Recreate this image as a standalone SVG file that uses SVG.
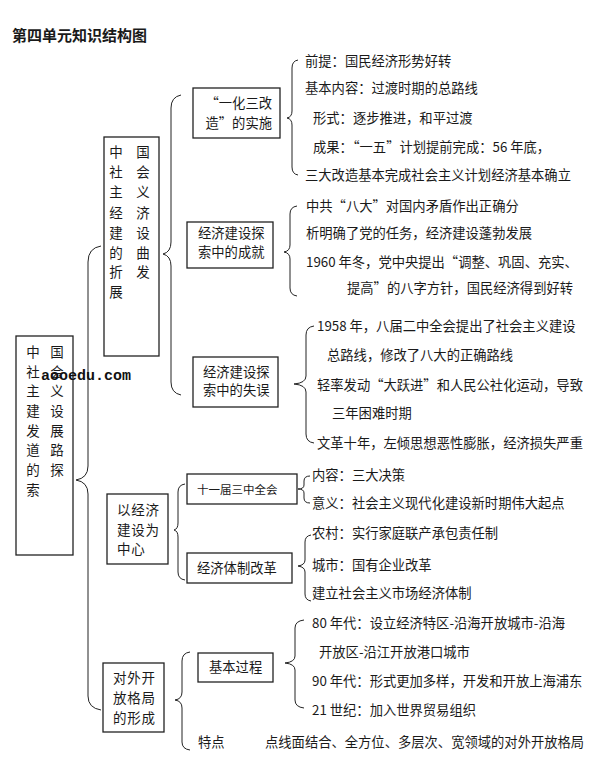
<svg xmlns="http://www.w3.org/2000/svg" width="600" height="762" viewBox="0 0 600 762">
<style>
text{font-family:"Noto Sans CJK SC","Noto Sans",sans-serif;fill:#1a1a1a}
.t{font-size:13.3px}
.b{font-size:13.5px}
.title{font-size:15px;font-weight:bold}
.box{fill:#fff;stroke:#222;stroke-width:1.3}
.br{fill:none;stroke:#222;stroke-width:1}
.wm{font-family:"Liberation Mono","DejaVu Sans Mono",monospace;font-size:15px;font-weight:bold;fill:#111}
</style>
<rect width="600" height="762" fill="#fff"/>
<text class="title" x="12" y="41">第四单元知识结构图</text>

<g id="connectors">
<path class="br" d="M101,246 Q88,248 88,262 L88,466 Q88,478 76,480 Q88,482 88,494 L88,696 Q88,708 101,710"/>
<path class="br" d="M181,95 Q171,97 171,108 L171,242 Q171,252 163,254 Q171,256 171,266 L171,382 Q171,393 181,395"/>
<path class="br" d="M298,60 Q292,61 292,68 L292,111 Q292,117 287,118 Q292,119 292,125 L292,167 Q292,174 298,175"/>
<path class="br" d="M297,206 Q290,207 290,214 L290,245 Q290,251 284,252 Q290,253 290,259 L290,288 Q290,295 297,296"/>
<path class="br" d="M314,326 Q306,327 306,335 L306,376 Q306,383 294,384 Q306,385 306,392 L306,434 Q306,442 314,443"/>
<path class="br" d="M310,476 Q304,476 304,481 L304,485 Q304,489 298,489 Q304,489 304,493 L304,498 Q304,503 310,503"/>
<path class="br" d="M311,535 Q305,536 305,542 L305,560 Q305,565 298,566 Q305,567 305,572 L305,594 Q305,600 311,601"/>
<path class="br" d="M185,484 Q178,485 178,492 L178,523 Q178,529 174,530 Q178,531 178,537 L178,572 Q178,579 185,580"/>
<path class="br" d="M190,652 Q182,653 182,661 L182,692 Q182,699 175,700 Q182,701 182,708 L182,742 Q182,749 190,750"/>
<path class="br" d="M304,620 Q295,621 295,628 L295,656 Q295,662 285,663 Q295,664 295,670 L295,700 Q295,707 304,708"/>
</g>

<g id="root">
<rect class="box" x="16" y="336" width="57" height="219"/>
<g class="b" text-anchor="middle">
<text x="33" y="357">中</text><text x="57" y="357">国</text>
<text x="33" y="377">社</text><text x="57" y="377">会</text>
<text x="33" y="396">主</text><text x="57" y="396">义</text>
<text x="33" y="416">建</text><text x="57" y="416">设</text>
<text x="33" y="436">发</text><text x="57" y="436">展</text>
<text x="33" y="455">道</text><text x="57" y="455">路</text>
<text x="33" y="475">的</text><text x="57" y="475">探</text>
<text x="33" y="495">索</text>
</g>
</g>

<g id="n-quzhe">
<rect class="box" x="104" y="137" width="55" height="219"/>
<g class="b" text-anchor="middle">
<text x="116" y="157">中</text><text x="143" y="157">国</text>
<text x="116" y="177">社</text><text x="143" y="177">会</text>
<text x="116" y="197">主</text><text x="143" y="197">义</text>
<text x="116" y="218">经</text><text x="143" y="218">济</text>
<text x="116" y="238">建</text><text x="143" y="238">设</text>
<text x="116" y="258">的</text><text x="143" y="258">曲</text>
<text x="116" y="277">折</text><text x="143" y="277">发</text>
<text x="116" y="297">展</text>
</g>
</g>

<g id="n-yihua">
<rect class="box" x="193" y="88" width="87" height="50"/>
<text class="t" x="272" y="108" text-anchor="end">“一化三改</text>
<text class="t" x="272" y="128" text-anchor="end">造”的实施</text>
<text class="t" x="305" y="66">前提：国民经济形势好转</text>
<text class="t" x="305" y="93">基本内容：过渡时期的总路线</text>
<text class="t" x="313" y="123">形式：逐步推进，和平过渡</text>
<text class="t" x="313" y="152">成果：“一五”计划提前完成：56 年底，</text>
<text class="t" x="305" y="180">三大改造基本完成社会主义计划经济基本确立</text>
</g>

<g id="n-chengjiu">
<rect class="box" x="187" y="222" width="86" height="46"/>
<text class="t" x="198" y="238">经济建设探</text>
<text class="t" x="198" y="257">索中的成就</text>
<text class="t" x="306" y="211">中共“八大”对国内矛盾作出正确分</text>
<text class="t" x="306" y="238">析明确了党的任务，经济建设蓬勃发展</text>
<text class="t" x="306" y="267">1960 年冬，党中央提出“调整、巩固、充实、</text>
<text class="t" x="347" y="293">提高”的八字方针，国民经济得到好转</text>
</g>

<g id="n-shiwu">
<rect class="box" x="193" y="357" width="85" height="50"/>
<text class="t" x="203" y="377">经济建设探</text>
<text class="t" x="203" y="395">索中的失误</text>
<text class="t" x="317" y="331">1958 年，八届二中全会提出了社会主义建设</text>
<text class="t" x="327" y="360">总路线，修改了八大的正确路线</text>
<text class="t" x="317" y="390">轻率发动“大跃进”和人民公社化运动，导致</text>
<text class="t" x="332" y="418">三年困难时期</text>
<text class="t" x="317" y="448">文革十年，左倾思想恶性膨胀，经济损失严重</text>
</g>

<g id="n-zhongxin">
<rect class="box" x="107" y="494" width="61" height="70"/>
<text class="b" x="117" y="515" letter-spacing="0.8">以经济</text>
<text class="b" x="117" y="535" letter-spacing="0.8">建设为</text>
<text class="b" x="117" y="554" letter-spacing="0.8">中心</text>
</g>

<g id="n-sanzhong">
<rect class="box" x="187" y="474" width="110" height="30"/>
<text x="197" y="494" font-size="11.5">十一届三中全会</text>
<text class="t" x="312" y="480">内容：三大决策</text>
<text class="t" x="312" y="508">意义：社会主义现代化建设新时期伟大起点</text>
</g>

<g id="n-tizhi">
<rect class="box" x="187" y="553" width="105" height="30"/>
<text class="t" x="197" y="573">经济体制改革</text>
<text class="t" x="312" y="538">农村：实行家庭联产承包责任制</text>
<text class="t" x="312" y="570">城市：国有企业改革</text>
<text class="t" x="312" y="598">建立社会主义市场经济体制</text>
</g>

<g id="n-kaifang">
<rect class="box" x="103" y="663" width="61" height="69"/>
<text class="b" x="113" y="683" letter-spacing="0.8">对外开</text>
<text class="b" x="113" y="703" letter-spacing="0.8">放格局</text>
<text class="b" x="113" y="723" letter-spacing="0.8">的形成</text>
</g>

<g id="n-guocheng">
<rect class="box" x="198" y="653" width="75" height="29"/>
<text class="t" x="209" y="672">基本过程</text>
<text class="t" x="312" y="628">80 年代：设立经济特区-沿海开放城市-沿海</text>
<text class="t" x="319" y="657">开放区-沿江开放港口城市</text>
<text class="t" x="312" y="686">90 年代：形式更加多样，开发和开放上海浦东</text>
<text class="t" x="312" y="715">21 世纪：加入世界贸易组织</text>
</g>

<g id="n-tedian">
<text class="t" x="198" y="747">特点</text>
<text class="t" x="265" y="747">点线面结合、全方位、多层次、宽领域的对外开放格局</text>
</g>

<text class="wm" x="41" y="380">aooedu.com</text>
</svg>
